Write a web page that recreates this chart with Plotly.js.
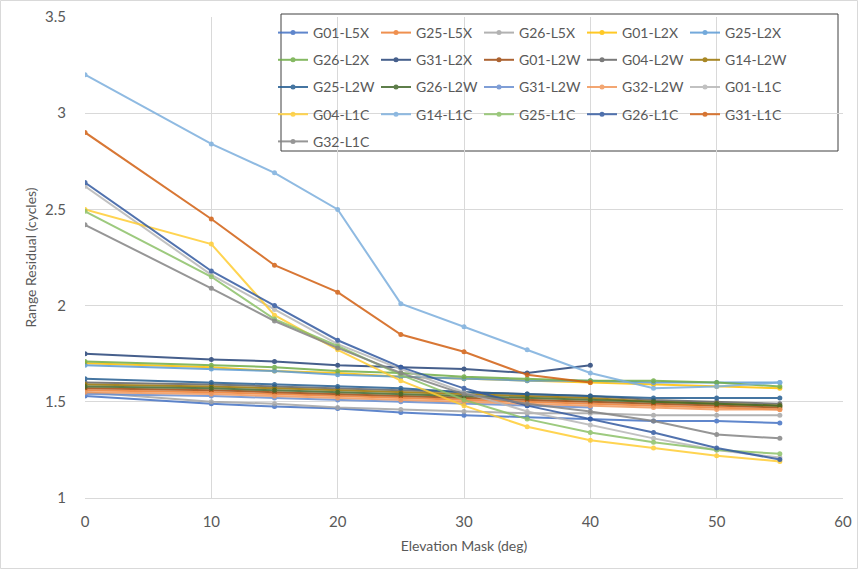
<!DOCTYPE html>
<html>
<head>
<meta charset="utf-8">
<script src="https://cdn.plot.ly/plotly-3.0.1.min.js"></script>
<style>html,body{margin:0;padding:0;background:#fff;}#chart{width:858px;height:569px;}</style>
</head>
<body>
<div id="chart"></div>
<script>
// Elevation mask (deg)
const elevation = [0, 10, 15, 20, 25, 30, 35, 40, 45, 50, 55];

// Series names (legend order)
const seriesNames = [
  "G01-L5X", "G25-L5X", "G26-L5X", "G01-L2X", "G25-L2X",
  "G26-L2X", "G31-L2X", "G01-L2W", "G04-L2W", "G14-L2W",
  "G25-L2W", "G26-L2W", "G31-L2W", "G32-L2W", "G01-L1C",
  "G04-L1C", "G14-L1C", "G25-L1C", "G26-L1C", "G31-L1C",
  "G32-L1C"
];

// Range residual (cycles), one array per series
const G01_L5X = [1.53, 1.49, 1.475, 1.465, 1.445, 1.43, 1.42, 1.41, 1.40, 1.40, 1.39];
const G25_L5X = [1.56, 1.55, 1.54, 1.53, 1.52, 1.51, 1.50, 1.49, 1.48, 1.47, 1.46];
const G26_L5X = [1.55, 1.50, 1.49, 1.47, 1.46, 1.45, 1.44, 1.44, 1.43, 1.43, 1.43];
const G01_L2X = [1.70, 1.68, 1.66, 1.65, 1.63, 1.62, 1.61, 1.60, 1.59, 1.58, 1.57];
const G25_L2X = [1.69, 1.67, 1.66, 1.64, 1.63, 1.62, 1.61, 1.61, 1.60, 1.60, 1.60];
const G26_L2X = [1.71, 1.69, 1.68, 1.66, 1.65, 1.63, 1.62, 1.61, 1.61, 1.60, 1.58];
const G31_L2X = [1.75, 1.72, 1.71, 1.69, 1.68, 1.67, 1.65, 1.69];
const G01_L2W = [1.57, 1.56, 1.55, 1.54, 1.53, 1.52, 1.51, 1.50, 1.49, 1.48, 1.47];
const G04_L2W = [1.60, 1.59, 1.58, 1.57, 1.56, 1.55, 1.54, 1.53, 1.51, 1.50, 1.49];
const G14_L2W = [1.59, 1.58, 1.57, 1.56, 1.55, 1.54, 1.53, 1.52, 1.50, 1.49, 1.48];
const G25_L2W = [1.62, 1.60, 1.59, 1.58, 1.57, 1.55, 1.54, 1.53, 1.52, 1.52, 1.52];
const G26_L2W = [1.58, 1.57, 1.56, 1.55, 1.54, 1.53, 1.52, 1.51, 1.50, 1.49, 1.48];
const G31_L2W = [1.54, 1.53, 1.52, 1.51, 1.50, 1.49, 1.48, 1.47];
const G32_L2W = [1.55, 1.54, 1.53, 1.52, 1.51, 1.50, 1.49, 1.48, 1.47, 1.46, 1.46];
const G01_L1C = [2.62, 2.16, 1.98, 1.80, 1.67, 1.55, 1.45, 1.38, 1.31, 1.25, 1.21];
const G04_L1C = [2.50, 2.32, 1.95, 1.77, 1.61, 1.48, 1.37, 1.30, 1.26, 1.22, 1.19];
const G14_L1C = [3.20, 2.84, 2.69, 2.50, 2.01, 1.89, 1.77, 1.65, 1.57, 1.58, 1.60];
const G25_L1C = [2.49, 2.15, 1.93, 1.79, 1.64, 1.51, 1.41, 1.34, 1.29, 1.25, 1.23];
const G26_L1C = [2.64, 2.18, 2.00, 1.82, 1.68, 1.57, 1.48, 1.41, 1.34, 1.26, 1.20];
const G31_L1C = [2.90, 2.45, 2.21, 2.07, 1.85, 1.76, 1.64, 1.60];
const G32_L1C = [2.42, 2.09, 1.92, 1.78, 1.65, 1.54, 1.49, 1.45, 1.40, 1.33, 1.31];

const seriesValues = [
  G01_L5X, G25_L5X, G26_L5X, G01_L2X, G25_L2X,
  G26_L2X, G31_L2X, G01_L2W, G04_L2W, G14_L2W,
  G25_L2W, G26_L2W, G31_L2W, G32_L2W, G01_L1C,
  G04_L1C, G14_L1C, G25_L1C, G26_L1C, G31_L1C,
  G32_L1C
];

const seriesColors = [
  "#4472C4", "#ED7D31", "#A5A5A5", "#FFC000", "#5B9BD5",
  "#70AD47", "#264478", "#9E480E", "#636363", "#997300",
  "#255E91", "#43682B", "#698ED0", "#F1975A", "#B7B7B7",
  "#FFCD33", "#7CAFDD", "#8CC168", "#335AA1", "#D26012",
  "#848484"
];

const W = 858, H = 569;
const M = {l: 85, r: 15, t: 17, b: 71};
const pw = W - M.l - M.r, ph = H - M.t - M.b;
const px2x = p => (p - M.l) / pw;
const py2y = p => (H - M.b - p) / ph;

const legendIds = ["legend", "legend2", "legend3", "legend4", "legend5"];

const traces = seriesNames.map((name, i) => ({
  type: "scatter",
  mode: "lines+markers",
  name: name,
  x: elevation.slice(0, seriesValues[i].length),
  y: seriesValues[i],
  line: {color: seriesColors[i], width: 2},
  marker: {color: seriesColors[i], size: 5},
  opacity: 0.85,
  legend: legendIds[i % 5],
  legendgroup: "g" + i,
  hoverinfo: "x+y+name"
}));

const layout = {
  width: W, height: H,
  margin: {l: M.l, r: M.r, t: M.t, b: M.b, pad: 0, autoexpand: false},
  paper_bgcolor: "#ffffff",
  plot_bgcolor: "#ffffff",
  font: {family: "Lato, 'Open Sans', sans-serif", color: "#595959", size: 14},
  showlegend: true,
  xaxis: {
    range: [0, 60], dtick: 10, tick0: 0, automargin: false,
    showgrid: true, gridcolor: "#d9d9d9", gridwidth: 1,
    zeroline: false,
    showline: true, linecolor: "#d9d9d9", linewidth: 1,
    ticks: "", ticklabelstandoff: 10,
    tickfont: {size: 15, color: "#595959"},
    title: {text: "Elevation Mask (deg)", font: {size: 14, color: "#595959"}, standoff: 12}
  },
  yaxis: {
    range: [1, 3.5], dtick: 0.5, tick0: 1, automargin: false,
    showgrid: true, gridcolor: "#d9d9d9", gridwidth: 1,
    zeroline: false, showline: false,
    ticks: "", ticklabelstandoff: 18,
    tickfont: {size: 15, color: "#595959"},
    title: {text: "Range Residual (cycles)", font: {size: 14, color: "#595959"}, standoff: 5}
  },
  shapes: [
    {type: "rect", xref: "paper", yref: "paper",
     x0: px2x(281), x1: px2x(838), y0: py2y(151), y1: py2y(14),
     line: {color: "#404040", width: 1}, fillcolor: "#ffffff", layer: "between"},
    {type: "rect", xref: "paper", yref: "paper",
     x0: px2x(0.5), x1: px2x(857.5), y0: py2y(568.5), y1: py2y(0.5),
     line: {color: "#d9d9d9", width: 1}, fillcolor: "rgba(0,0,0,0)", layer: "below"}
  ]
};

legendIds.forEach((id, k) => {
  layout[id] = {
    x: px2x(273 + 103 * k), xanchor: "left",
    y: 1, yanchor: "top",
    orientation: "v",
    bgcolor: "rgba(0,0,0,0)", borderwidth: 0,
    tracegroupgap: 6,
    itemwidth: 30,
    font: {size: 14, color: "#595959", family: "Lato, 'Open Sans', sans-serif"}
  };
});

Plotly.newPlot("chart", traces, layout, {displayModeBar: false, staticPlot: true});
</script>
</body>
</html>
